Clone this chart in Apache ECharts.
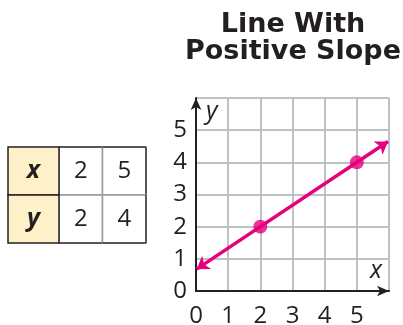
<!DOCTYPE html>
<html>
<head>
<meta charset="utf-8">
<style>
    html, body { margin: 0; padding: 0; background: #fff; }
    #main { width: 403px; height: 325px; }
</style>
<script src="https://cdn.jsdelivr.net/npm/echarts@6/dist/echarts.min.js"></script>
</head>
<body>
<div id="main"></div>
<script>
    // data
    const titleLines = ['Line With', 'Positive Slope'];
    const tableRows = ['x', 'y'];
    const tableValues = [[2, 5], [2, 4]];   // one row per variable
    const axisTicks = [0, 1, 2, 3, 4, 5];
    const points = [[2, 2], [5, 4]];
    const lineEnds = [[0.02, 0.68], [5.97, 4.65]];

    const ink = '#231f20';
    const pink = '#e6007e';
    const gridGrey = '#bfc1c3';

    const chart = echarts.init(document.getElementById('main'));

    // table cells
    const headerData = tableRows.map((r, i) => [0, i]);
    const valueData = [];
    tableValues.forEach((row, i) => {
        row.forEach((v, j) => valueData.push([j, i, v]));
    });

    function cellRect(api) {
        const c = api.coord([api.value(0), api.value(1)]);
        const s = api.size([1, 1]);
        return { x: c[0] - s[0] / 2, y: c[1] - s[1] / 2, w: s[0], h: s[1], cx: c[0], cy: c[1] };
    }

    function renderHeader(params, api) {
        const r = cellRect(api);
        return {
            type: 'group',
            children: [
                { type: 'rect', shape: { x: r.x, y: r.y, width: r.w, height: r.h },
                  style: { fill: '#fef0c9', stroke: ink, lineWidth: 1.5 } },
                { type: 'text', style: { text: tableRows[api.value(1)], x: r.cx, y: r.cy,
                  align: 'center', verticalAlign: 'middle', fill: ink,
                  font: 'italic bold 25px "Open Sans"' } }
            ]
        };
    }

    function renderValue(params, api) {
        const r = cellRect(api);
        const col = api.value(0), row = api.value(1);
        const children = [
            { type: 'rect', shape: { x: r.x, y: r.y, width: r.w, height: r.h },
              style: { fill: '#fff', stroke: '#9a9a9a', lineWidth: 1.5 } },
            { type: 'text', style: { text: String(api.value(2)), x: r.cx, y: r.cy,
              align: 'center', verticalAlign: 'middle', fill: ink,
              font: '24px "Open Sans"' } }
        ];
        // outer border is darker
        const edge = (x1, y1, x2, y2) => ({ type: 'line', shape: { x1, y1, x2, y2 },
            style: { stroke: '#3a3a3a', lineWidth: 1.5 } });
        if (row === 0) children.push(edge(r.x, r.y, r.x + r.w, r.y));
        if (row === tableRows.length - 1) children.push(edge(r.x, r.y + r.h, r.x + r.w, r.y + r.h));
        if (col === tableValues[0].length - 1) children.push(edge(r.x + r.w, r.y, r.x + r.w, r.y + r.h));
        return { type: 'group', children };
    }

    const option = {
        animation: false,
        title: {
            text: titleLines.join('\n'),
            left: 293,
            top: 11,
            textAlign: 'center',
            padding: 0,
            textStyle: {
                fontFamily: 'DejaVu Sans',
                fontWeight: 'bold',
                fontSize: 27,
                lineHeight: 27,
                color: ink
            }
        },
        grid: [
            { left: 196, top: 98, width: 193, height: 193, outerBoundsMode: 'none' },
            { left: 8, top: 147, width: 51, height: 96, outerBoundsMode: 'none' },
            { left: 59, top: 147, width: 87, height: 96, outerBoundsMode: 'none' }
        ],
        xAxis: [
            {
                type: 'value', gridIndex: 0, min: 0, max: 6, interval: 1,
                name: 'x', nameLocation: 'end', nameGap: -19,
                nameTextStyle: { color: ink, fontFamily: 'Open Sans', fontStyle: 'italic',
                    fontSize: 25, align: 'left', verticalAlign: 'bottom', padding: [0, 0, 8, 0] },
                axisLine: { lineStyle: { color: ink, width: 2 }, symbol: ['none', 'arrow'], symbolSize: [8, 12] },
                axisTick: { show: false },
                axisLabel: {
                    margin: 13, color: ink, fontFamily: 'Open Sans', fontSize: 24,
                    formatter: v => axisTicks.indexOf(v) >= 0 ? String(v) : ''
                },
                splitLine: { lineStyle: { color: gridGrey, width: 2 } }
            },
            { type: 'category', gridIndex: 1, data: ['head'], show: false },
            { type: 'category', gridIndex: 2, data: tableValues[0].map((v, j) => 'c' + j), show: false }
        ],
        yAxis: [
            {
                type: 'value', gridIndex: 0, min: 0, max: 6, interval: 1,
                name: 'y', nameLocation: 'end', nameGap: -1,
                nameTextStyle: { color: ink, fontFamily: 'Open Sans', fontStyle: 'italic',
                    fontSize: 25, align: 'left', verticalAlign: 'top', padding: [0, 0, 0, 10] },
                axisLine: { lineStyle: { color: ink, width: 2 }, symbol: ['none', 'arrow'], symbolSize: [8, 12] },
                axisTick: { show: false },
                axisLabel: {
                    margin: 9, color: ink, fontFamily: 'Open Sans', fontSize: 24,
                    formatter: v => axisTicks.indexOf(v) >= 0 ? String(v) : ''
                },
                splitLine: { lineStyle: { color: gridGrey, width: 2 } }
            },
            { type: 'category', gridIndex: 1, data: tableRows, inverse: true, show: false },
            { type: 'category', gridIndex: 2, data: tableRows, inverse: true, show: false }
        ],
        series: [
            {
                type: 'custom', xAxisIndex: 2, yAxisIndex: 2,
                renderItem: renderValue, data: valueData, silent: true
            },
            {
                type: 'custom', xAxisIndex: 1, yAxisIndex: 1,
                renderItem: renderHeader, data: headerData, silent: true
            },
            {
                type: 'scatter', xAxisIndex: 0, yAxisIndex: 0,
                data: points, symbolSize: 14, z: 5,
                itemStyle: { color: pink },
                markLine: {
                    silent: true,
                    symbol: ['arrow', 'arrow'],
                    symbolSize: 12,
                    label: { show: false },
                    lineStyle: { color: pink, width: 3.5, type: 'solid' },
                    emphasis: { disabled: true },
                    data: [[{ coord: lineEnds[0] }, { coord: lineEnds[1] }]]
                }
            }
        ]
    };

    chart.setOption(option);
</script>
</body>
</html>
